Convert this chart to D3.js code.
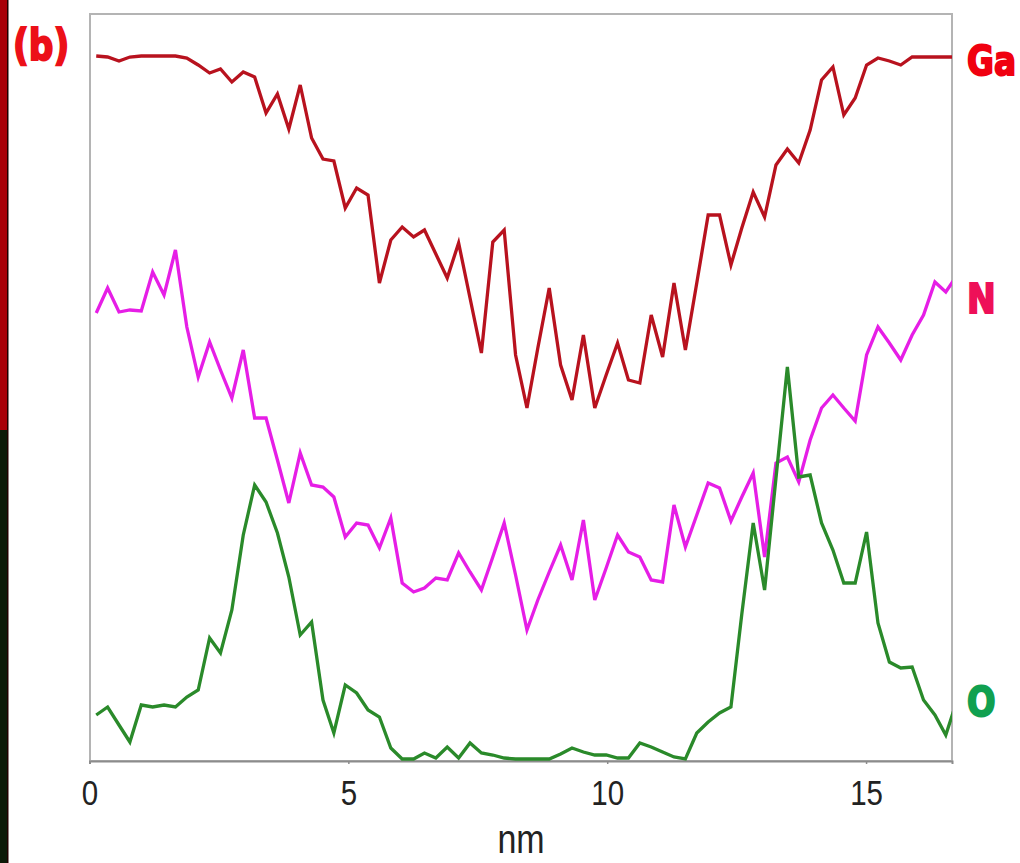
<!DOCTYPE html>
<html>
<head>
<meta charset="utf-8">
<script src="https://cdn.jsdelivr.net/npm/d3@7"></script>
<style>
  html, body { margin: 0; padding: 0; background: #ffffff; }
  svg { display: block; }
</style>
</head>
<body>
<svg id="chart" width="1020" height="863"></svg>
<script>
// ---- data ----
const positions = [0.13,0.35,0.57,0.78,1.00,1.22,1.44,1.66,1.88,2.10,2.32,2.53,2.75,2.97,3.19,3.41,3.63,3.85,4.07,4.29,4.51,4.72,4.94,5.16,5.38,5.60,5.82,6.04,6.26,6.47,6.69,6.91,7.13,7.35,7.57,7.79,8.01,8.23,8.45,8.66,8.88,9.10,9.32,9.54,9.76,9.98,10.20,10.41,10.63,10.85,11.07,11.29,11.51,11.73,11.95,12.17,12.39,12.60,12.82,13.04,13.26,13.48,13.70,13.92,14.14,14.36,14.57,14.79,15.01,15.23,15.45,15.67,15.89,16.11,16.33,16.54,16.76];

const gaValues = [704,703,699,703,704,704,704,704,702,695,687,691,678,688,683,647,666,631,675,622,601,599,552,572,565,477,520,533,523,530,506,482,517,462,407,518,530,405,352,412,472,395,360,425,352,385,417,380,377,445,403,477,410,477,545,545,495,532,568,543,595,611,597,630,680,693,645,662,695,702,699,695,703,703,703,703,703];

const nValues = [447,472,448,450,449,488,465,510,433,383,418,390,362,410,342,342,300,257,307,275,273,263,223,237,235,212,242,177,168,172,182,180,207,188,170,203,237,185,130,160,188,215,180,240,160,192,225,208,203,180,178,255,213,245,277,272,239,263,287,203,297,303,278,320,352,365,352,339,405,433,417,400,425,445,478,468,485];

const oValues = [45,53,35,18,55,53,55,53,63,70,122,107,150,225,275,258,227,183,125,138,60,27,75,67,50,43,12,1,1,7,2,13,2,17,7,5,2,1,1,1,1,6,12,8,5,5,2,2,17,13,8,3,1,27,38,47,53,146,237,170,282,393,283,285,237,210,177,177,228,137,98,92,93,60,45,25,60];

const seriesNames = ["Ga", "N", "O"];
const xTicks = [0, 5, 10, 15];
const xLabel = "nm";
const panelLabel = "(b)";

// ---- layout ----
const svg = d3.select("#chart");
const plot = { left: 90, right: 952, top: 14, bottom: 760 };

const x = d3.scaleLinear().domain([0, 16.66]).range([89.5, plot.right]);
const y = d3.scaleLinear().domain([0, 746]).range([plot.bottom, plot.top]);

// left edge strip (fragment of neighbouring panel)
svg.append("rect").attr("x", 0).attr("y", 0).attr("width", 8).attr("height", 430).attr("fill", "#a80008");
svg.append("rect").attr("x", 0).attr("y", 430).attr("width", 8).attr("height", 433).attr("fill", "#0c1a08");
svg.append("rect").attr("x", 7).attr("y", 0).attr("width", 1.5).attr("height", 863).attr("fill", "#200000");

// clip
svg.append("defs").append("clipPath").attr("id", "clip")
  .append("rect").attr("x", plot.left).attr("y", plot.top)
  .attr("width", plot.right - plot.left).attr("height", plot.bottom - plot.top + 1);

// frame
svg.append("rect")
  .attr("x", plot.left).attr("y", plot.top)
  .attr("width", plot.right - plot.left).attr("height", plot.bottom + 1 - plot.top)
  .attr("fill", "none").attr("stroke", "#b4b4b4").attr("stroke-width", 2);

// x axis
const axis = svg.append("g")
  .attr("transform", `translate(0,${plot.bottom + 1})`)
  .call(d3.axisBottom(x).tickValues(xTicks).tickSize(3).tickFormat(d3.format("d")));
axis.select(".domain").attr("stroke", "#8c8c8c").attr("stroke-width", 2);
axis.selectAll(".tick line").attr("stroke", "#8c8c8c").attr("stroke-width", 1.5);
axis.selectAll(".tick text")
  .attr("y", 44).attr("dy", 0)
  .attr("fill", "#222")
  .style("font-family", "'Liberation Sans', Arial, sans-serif")
  .style("font-size", "36px")
  .attr("transform", "scale(0.82,1)");

svg.append("text")
  .attr("transform", "translate(521,853) scale(0.85,1)")
  .attr("text-anchor", "middle")
  .attr("fill", "#222")
  .style("font-family", "'Liberation Sans', Arial, sans-serif")
  .style("font-size", "40px")
  .text(xLabel);

// lines
const line = d3.line().x((d, i) => x(positions[i])).y(d => y(d));
const lineColors = { Ga: "#b8121e", N: "#e61ee6", O: "#2a8a2a" };
const data = { Ga: gaValues, N: nValues, O: oValues };
const g = svg.append("g").attr("clip-path", "url(#clip)");
seriesNames.forEach(name => {
  g.append("path")
    .datum(data[name])
    .attr("d", line)
    .attr("fill", "none")
    .attr("stroke", lineColors[name])
    .attr("stroke-width", 3.3)
    .attr("stroke-linejoin", "miter");
});

// element labels
const labelStyle = {
  Ga: { fill: "#f00010", y: 75, sx: 0.82 },
  N:  { fill: "#ee1058", y: 313, sx: 0.86 },
  O:  { fill: "#10a050", y: 716, sx: 0.84 }
};
seriesNames.forEach(name => {
  const s = labelStyle[name];
  svg.append("text")
    .attr("transform", `translate(967,${s.y}) scale(${s.sx},1)`)
    .attr("fill", s.fill).attr("stroke", s.fill).attr("stroke-width", 2)
    .style("font-family", "'DejaVu Sans', sans-serif")
    .style("font-weight", "bold")
    .style("font-size", "40px")
    .text(name);
});

svg.append("text")
  .attr("transform", "translate(13,60) scale(0.82,1)")
  .attr("fill", "#ec1018").attr("stroke", "#ec1018").attr("stroke-width", 2)
  .style("font-family", "'DejaVu Sans', sans-serif")
  .style("font-weight", "bold")
  .style("font-size", "42px")
  .text(panelLabel);
</script>
</body>
</html>
